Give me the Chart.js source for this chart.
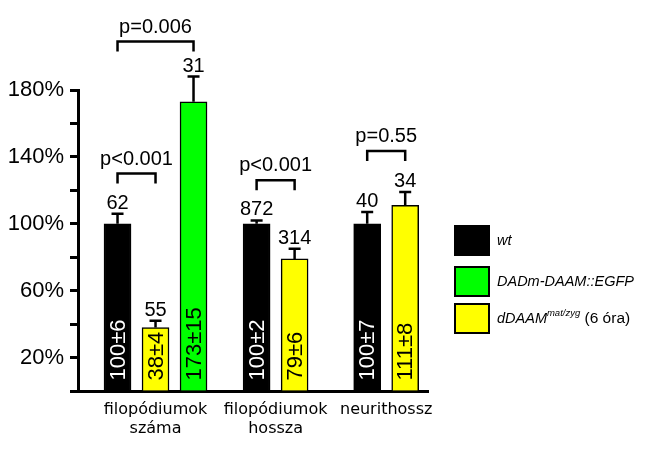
<!DOCTYPE html>
<html>
<head>
<meta charset="utf-8">
<script src="https://cdn.jsdelivr.net/npm/chart.js@4.4.0/dist/chart.umd.min.js"></script>
<style>
html, body { margin: 0; padding: 0; background: #fff; }
#wrap { width: 668px; height: 452px; position: relative; }
</style>
</head>
<body>
<div id="wrap"><canvas id="myChart"></canvas></div>
<script>
// x axis groups
const groupLabels = [['filopódiumok', 'száma'], ['filopódiumok', 'hossza'], ['neurithossz']];

// wt
const wtValues = [100, 100, 100];
const wtErrors = [6, 2, 7];
const wtN = [62, 872, 40];

// dDAAM mat/zyg (6 óra)
const mutValues = [38, 79, 111];
const mutErrors = [4, 6, 8];
const mutN = [55, 314, 34];

// DADm-DAAM::EGFP, first group only
const rescueValues = [173];
const rescueErrors = [15];
const rescueN = [31];

// p value brackets: [dataset, index] of both ends, label, height in %
const pLabels = ['p<0.001', 'p=0.006', 'p<0.001', 'p=0.55'];
const pFrom = [[0, 0], [0, 0], [0, 1], [0, 2]];
const pTo = [[1, 0], [2, 0], [1, 1], [1, 2]];
const pLevels = [130, 209, 126, 143.5];

// y axis
const yMin = 0, yMax = 180, yStep = 20;

// layout only
const groupStart = [0, 3.66, 6.57];
const FONT = '"Liberation Sans", Arial, Helvetica, sans-serif';

function toPoints(values, slot) {
  return values.map((v, g) => ({ x: groupStart[g] + slot, y: v }));
}

const errors = [wtErrors, mutErrors, rescueErrors];
const counts = [wtN, mutN, rescueN];
const textColors = ['#fff', '#000', '#000'];

const data = {
  datasets: [
    { label: 'wt', data: toPoints(wtValues, 0), backgroundColor: '#000' },
    { label: 'dDAAM', data: toPoints(mutValues, 1), backgroundColor: '#ffff00' },
    { label: 'DADm-DAAM::EGFP', data: toPoints(rescueValues, 2), backgroundColor: '#00ff00' }
  ]
};

const bgPlugin = {
  id: 'bg',
  beforeDraw(chart) {
    const c = chart.ctx;
    c.save();
    c.fillStyle = '#fff';
    c.fillRect(0, 0, chart.width, chart.height);
    c.restore();
  }
};

const marksPlugin = {
  id: 'marks',
  afterDatasetsDraw(chart) {
    const c = chart.ctx;
    const y = chart.scales.y;
    c.save();
    c.strokeStyle = '#000';
    c.lineWidth = 2.5;
    chart.data.datasets.forEach((ds, di) => {
      const meta = chart.getDatasetMeta(di);
      meta.data.forEach((bar, i) => {
        const v = ds.data[i].y;
        const e = errors[di][i];
        const top = y.getPixelForValue(v + e);
        // error bar
        c.beginPath();
        c.moveTo(bar.x, bar.y);
        c.lineTo(bar.x, top);
        c.moveTo(bar.x - 6, top);
        c.lineTo(bar.x + 6, top);
        c.stroke();
        // n above
        c.fillStyle = '#000';
        c.font = '20px ' + FONT;
        c.textAlign = 'center';
        c.textBaseline = 'alphabetic';
        c.fillText(String(counts[di][i]), bar.x, top - 5);
        // value inside, rotated
        c.save();
        c.translate(bar.x, bar.base - 10);
        c.rotate(-Math.PI / 2);
        c.fillStyle = textColors[di];
        c.font = '22px ' + FONT;
        c.textAlign = 'left';
        c.textBaseline = 'middle';
        c.fillText(v + '±' + e, 0, 1);
        c.restore();
      });
    });
    // brackets
    pLabels.forEach((lab, k) => {
      const a = chart.getDatasetMeta(pFrom[k][0]).data[pFrom[k][1]];
      const b = chart.getDatasetMeta(pTo[k][0]).data[pTo[k][1]];
      const top = y.getPixelForValue(pLevels[k]);
      c.beginPath();
      c.moveTo(a.x, top + 10);
      c.lineTo(a.x, top);
      c.lineTo(b.x, top);
      c.lineTo(b.x, top + 10);
      c.stroke();
      c.fillStyle = '#000';
      c.font = '20px ' + FONT;
      c.textAlign = 'center';
      c.textBaseline = 'alphabetic';
      c.fillText(lab, (a.x + b.x) / 2, top - 9);
    });
    c.restore();
  },
  afterDraw(chart) {
    // legend
    const c = chart.ctx;
    const colors = ['#000', '#00ff00', '#ffff00'];
    const x0 = 455, w = 34, h = 29;
    const tops = [226, 267, 304];
    c.save();
    tops.forEach((t, i) => {
      c.fillStyle = colors[i];
      c.fillRect(x0, t, w, h);
      c.strokeStyle = '#000';
      c.lineWidth = 2;
      c.strokeRect(x0, t, w, h);
    });
    c.fillStyle = '#000';
    c.textAlign = 'left';
    c.textBaseline = 'alphabetic';
    c.font = 'italic 14.5px ' + FONT;
    c.fillText('wt', 497, 245);
    c.fillText('DADm-DAAM::EGFP', 497, 286);
    c.fillText('dDAAM', 497, 323);
    let xx = 497 + c.measureText('dDAAM').width;
    c.font = 'italic 9.5px ' + FONT;
    c.fillText('mat/zyg', xx, 316);
    xx += c.measureText('mat/zyg').width;
    c.font = '15.5px ' + FONT;
    c.fillText(' (6 óra)', xx, 323);
    c.restore();
  }
};

const config = {
  type: 'bar',
  data: data,
  options: {
    responsive: true,
    maintainAspectRatio: false,
    animation: false,
    grouped: false,
    barThickness: 27,
    borderColor: '#000',
    borderWidth: 1.5,
    layout: { padding: { top: 90, right: 240, bottom: 0, left: 0 } },
    plugins: { legend: { display: false }, tooltip: { enabled: false } },
    scales: {
      x: {
        type: 'linear',
        offset: false,
        bounds: 'data',
        min: -1.04,
        max: 8.17,
        grid: { display: true, drawOnChartArea: false, drawTicks: false },
        border: { display: true, color: '#000', width: 3 },
        afterBuildTicks: s => { s.ticks = groupLabels.map((l, g) => ({ value: groupStart[g] + (g === 0 ? 1 : 0.5) })); },
        afterFit: s => { s.height = 61; },
        ticks: {
          autoSkip: false,
          maxRotation: 0,
          padding: 9,
          color: '#000',
          font: { family: '"DejaVu Sans", Verdana, sans-serif', size: 16, lineHeight: 1.22 },
          callback: (v, i) => groupLabels[i]
        }
      },
      y: {
        min: yMin,
        max: yMax,
        grid: { display: true, drawOnChartArea: false, drawTicks: true, tickLength: 8, tickWidth: 3, tickColor: '#000' },
        border: { display: true, color: '#000', width: 3 },
        afterFit: s => { s.width = 78; },
        ticks: {
          stepSize: yStep,
          padding: 6,
          color: '#000',
          font: { family: FONT, size: 22 },
          callback: v => (v % 40 === 20 ? v + '%' : '')
        }
      }
    }
  },
  plugins: [bgPlugin, marksPlugin]
};

const myChart = new Chart(document.getElementById('myChart'), config);
</script>
</body>
</html>
